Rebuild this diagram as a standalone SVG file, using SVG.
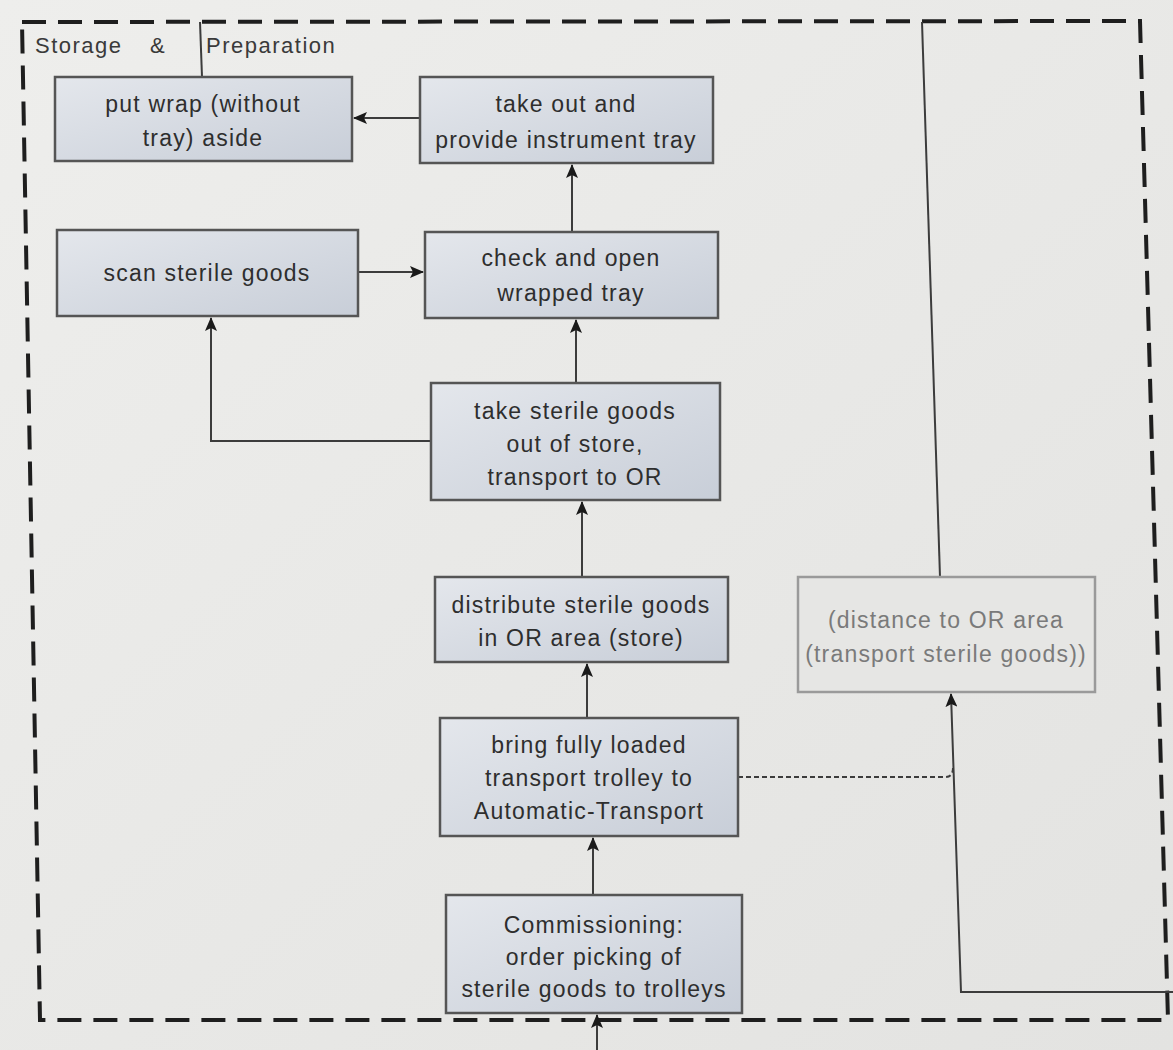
<svg xmlns="http://www.w3.org/2000/svg" width="1173" height="1050" viewBox="0 0 1173 1050">
  <defs>
    <linearGradient id="boxFill" x1="0" y1="0" x2="1" y2="1">
      <stop offset="0" stop-color="#e4e7ec"/>
      <stop offset="1" stop-color="#c8ced8"/>
    </linearGradient>
    <linearGradient id="paper" x1="0" y1="0" x2="1" y2="1">
      <stop offset="0" stop-color="#eeeeec"/>
      <stop offset="1" stop-color="#e3e3e1"/>
    </linearGradient>
    <marker id="arrow" viewBox="0 0 14 12" refX="13" refY="6" markerWidth="14" markerHeight="12" markerUnits="userSpaceOnUse" orient="auto">
      <path d="M0,0 L14,6 L0,12 L3,6 Z" fill="#1a1a1a"/>
    </marker>
  </defs>
  <style>
    .node rect { fill: url(#boxFill); stroke: #555; stroke-width: 2.5; }
    .node text { font-family: "Liberation Sans", Arial, sans-serif; font-size: 23px; letter-spacing: 1.2px; fill: #2e2e2e; text-anchor: middle; }
    .ghost rect { fill: #e6e6e4; stroke: #9a9a9a; stroke-width: 2.5; }
    .ghost text { font-family: "Liberation Sans", Arial, sans-serif; font-size: 23px; letter-spacing: 1.2px; fill: #7a7a7a; text-anchor: middle; }
    .link { fill: none; stroke: #3c3c3c; stroke-width: 2; }
    .dash { stroke-dasharray: 5 3; }
    .frame { fill: none; stroke: #1e1e1e; stroke-width: 4; stroke-dasharray: 24 12; }
    .title { font-family: "Liberation Sans", Arial, sans-serif; font-size: 22px; letter-spacing: 1.5px; fill: #3a3a3a; }
  </style>

  <rect x="0" y="0" width="1173" height="1050" fill="url(#paper)"/>

  <!-- area boundary -->
  <path class="frame" d="M22,22 L1140,21 L1168,1020 L40,1020 Z"/>
  <text class="title" x="35" y="53">Storage</text>
  <text class="title" x="150" y="53">&amp;</text>
  <text class="title" x="206" y="53">Preparation</text>

  <g id="connectors">
    <path class="link" d="M202,77 L200,22"/>
    <path class="link" d="M940,577 L922,22"/>
    <path class="link" marker-end="url(#arrow)" d="M420,118 L354,118"/>
    <path class="link" marker-end="url(#arrow)" d="M572,232 L572,165"/>
    <path class="link" marker-end="url(#arrow)" d="M358,272 L423,272"/>
    <path class="link" marker-end="url(#arrow)" d="M576,383 L576,320"/>
    <path class="link" marker-end="url(#arrow)" d="M431,441 L211,441 L211,318"/>
    <path class="link" marker-end="url(#arrow)" d="M582,577 L582,502"/>
    <path class="link" marker-end="url(#arrow)" d="M587,718 L587,664"/>
    <path class="link" marker-end="url(#arrow)" d="M593,895 L593,838"/>
    <path class="link" marker-end="url(#arrow)" d="M597,1050 L597,1015"/>
    <path class="link" marker-end="url(#arrow)" d="M1173,992 L961,992 L951,694"/>
    <path class="link dash" d="M738,777 L945,777 Q953,777 953,768"/>
  </g>

  <g id="put-wrap-aside" class="node">
    <rect x="55" y="77" width="297" height="84"/>
    <text x="203" y="112">put wrap (without</text>
    <text x="203" y="146">tray) aside</text>
  </g>

  <g id="provide-tray" class="node">
    <rect x="420" y="77" width="293" height="86"/>
    <text x="566" y="112">take out and</text>
    <text x="566" y="148">provide instrument tray</text>
  </g>

  <g id="scan-goods" class="node">
    <rect x="57" y="230" width="301" height="86"/>
    <text x="207" y="281">scan sterile goods</text>
  </g>

  <g id="check-open" class="node">
    <rect x="425" y="232" width="293" height="86"/>
    <text x="571" y="266">check and open</text>
    <text x="571" y="301">wrapped tray</text>
  </g>

  <g id="take-out-of-store" class="node">
    <rect x="431" y="383" width="289" height="117"/>
    <text x="575" y="419">take sterile goods</text>
    <text x="575" y="452">out of store,</text>
    <text x="575" y="485">transport to OR</text>
  </g>

  <g id="distribute" class="node">
    <rect x="435" y="577" width="293" height="85"/>
    <text x="581" y="613">distribute sterile goods</text>
    <text x="581" y="646">in OR area (store)</text>
  </g>

  <g id="distance-to-or" class="ghost">
    <rect x="798" y="577" width="297" height="115"/>
    <text x="946" y="628">(distance to OR area</text>
    <text x="946" y="662">(transport sterile goods))</text>
  </g>

  <g id="bring-trolley" class="node">
    <rect x="440" y="718" width="298" height="118"/>
    <text x="589" y="753">bring fully loaded</text>
    <text x="589" y="786">transport trolley to</text>
    <text x="589" y="819">Automatic-Transport</text>
  </g>

  <g id="commissioning" class="node">
    <rect x="446" y="895" width="296" height="118"/>
    <text x="594" y="933">Commissioning:</text>
    <text x="594" y="965">order picking of</text>
    <text x="594" y="997">sterile goods to trolleys</text>
  </g>
</svg>
